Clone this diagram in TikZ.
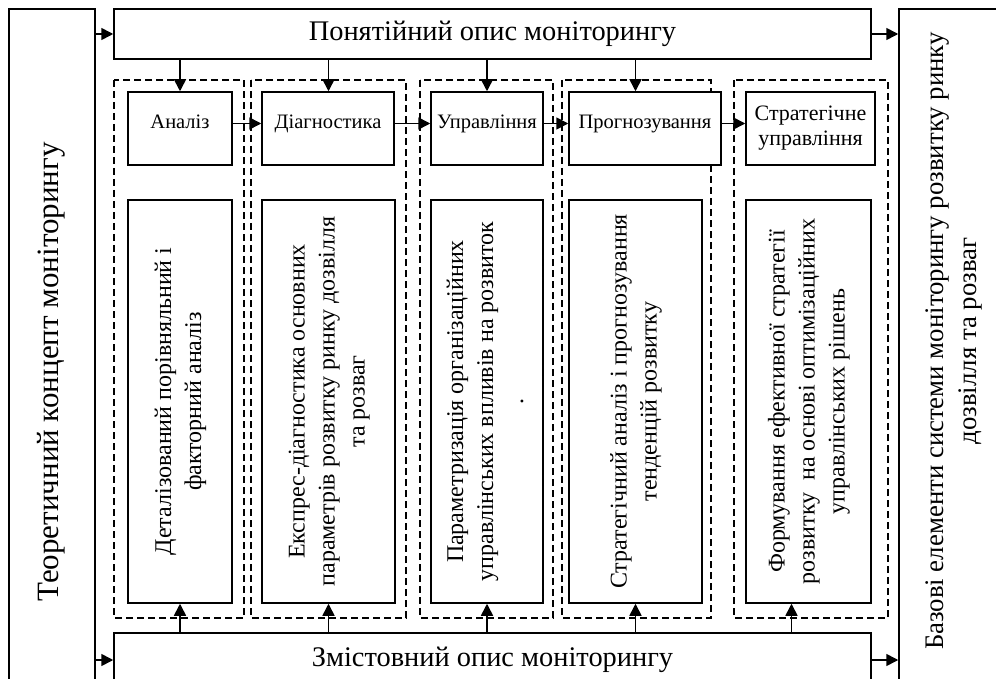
\documentclass[tikz,border=0pt]{standalone}
\usepackage{fontspec}
\setmainfont{Liberation Serif}
\usetikzlibrary{arrows.meta}
\newcommand{\bigf}{\fontsize{28.4}{32}\selectfont}
\newcommand{\sidef}{\fontsize{31}{34}\selectfont}
\newcommand{\basef}{\fontsize{26.8}{33}\selectfont}
\newcommand{\midf}{\fontsize{24}{30}\selectfont}
\newcommand{\smallf}{\fontsize{20.5}{23}\selectfont}
\newcommand{\vtext}[1]{\rotatebox{90}{\begin{tabular}{@{}c@{}}#1\end{tabular}}}
\tikzset{
  blk/.style={draw, line width=1.5pt, fill=white, inner sep=0pt, align=center},
  grp/.style={draw, line width=1.2pt, dash pattern=on 7pt off 4pt},
  arr/.style={line width=1.6pt, -{Triangle[length=12pt,width=12pt]}},
  stage/.style={blk, minimum height=73pt, font=\smallf},
  oneline/.style={text height=12pt, text depth=12pt},
  desc/.style={blk, minimum height=403pt, font=\midf},
}
\begin{document}
\begin{tikzpicture}[x=1pt,y=-1pt]
\useasboundingbox (0,0) rectangle (996,679);
% dashed groups
\draw[grp] (114,80) rectangle (244,618);
\draw[grp] (251,80) rectangle (406,618);
\draw[grp] (420,80) rectangle (553,618);
\draw[grp] (562,80) rectangle (711,618);
\draw[grp] (734,80) rectangle (888,618);
% outer blocks
\node[blk, minimum width=86pt, minimum height=726pt, font=\sidef] (teor) at (52,372)
  {\vtext{Теоретичний концепт моніторингу}};
\node[blk, minimum width=108pt, minimum height=681pt, text depth=17pt, font=\basef] (baz) at (953,349.5)
  {\vtext{Базові елементи системи моніторингу розвитку ринку\\дозвілля та розваг}};
\node[blk, minimum width=757pt, minimum height=50pt, font=\bigf] (pon) at (492.5,34)
  {Понятійний опис моніторингу};
\node[blk, minimum width=757pt, minimum height=54pt, font=\bigf] (zmist) at (492.5,660)
  {Змістовний опис моніторингу};
% stages
\node[stage, oneline, minimum width=104pt] (s1) at (180,128.5) {Аналіз};
\node[stage, oneline, minimum width=132pt] (s2) at (328,128.5) {Діагностика};
\node[stage, oneline, minimum width=112pt] (s3) at (487,128.5) {Управління};
\node[stage, oneline, minimum width=152pt] (s4) at (645,128.5) {Прогнозування};
\node[stage, minimum width=129pt, font=\fontsize{22}{25}\selectfont] (s5) at (810.5,128.5)
  {Стратегічне\\управління};
% descriptions
\node[desc, minimum width=104pt] (d1) at (180,401.5)
  {\vtext{Деталізований порівняльний і\\факторний аналіз}};
\node[desc, minimum width=133pt] (d2) at (328.5,401.5)
  {\vtext{Експрес-діагностика основних\\параметрів розвитку ринку дозвілля\\та розваг}};
\node[desc, minimum width=112pt] (d3) at (487,401.5)
  {\vtext{Параметризація організаційних\\управлінських впливів на розвиток\\.}};
\node[desc, minimum width=133pt] (d4) at (635.5,401.5)
  {\vtext{Стратегічний аналіз і прогнозування\\тенденцій розвитку}};
\node[desc, minimum width=125pt] (d5) at (808.5,401.5)
  {\vtext{Формування ефективної стратегії\\розвитку\ \ на основі оптимізаційних\\управлінських рішень}};
\coordinate (d5in) at ([xshift=-17pt]d5.south);
% arrows
\draw[arr] (teor.east |- pon.west) -- (pon.west);
\draw[arr] (pon.east) -- (pon.east -| baz.west);
\draw[arr] (teor.east |- zmist.west) -- (zmist.west);
\draw[arr] (zmist.east) -- (zmist.east -| baz.west);
\foreach \i in {1,...,4}
  \draw[arr] (pon.south -| d\i.north) -- (s\i.north -| d\i.north);
\foreach \i/\j in {1/2,2/3,3/4,4/5}
  \draw[arr] ([yshift=5pt]s\i.east) -- ([yshift=5pt]s\j.west);
\foreach \i in {1,...,4}
  \draw[arr] (zmist.north -| d\i.south) -- (d\i.south);
\draw[arr] (zmist.north -| d5in) -- (d5in);
\end{tikzpicture}
\end{document}
